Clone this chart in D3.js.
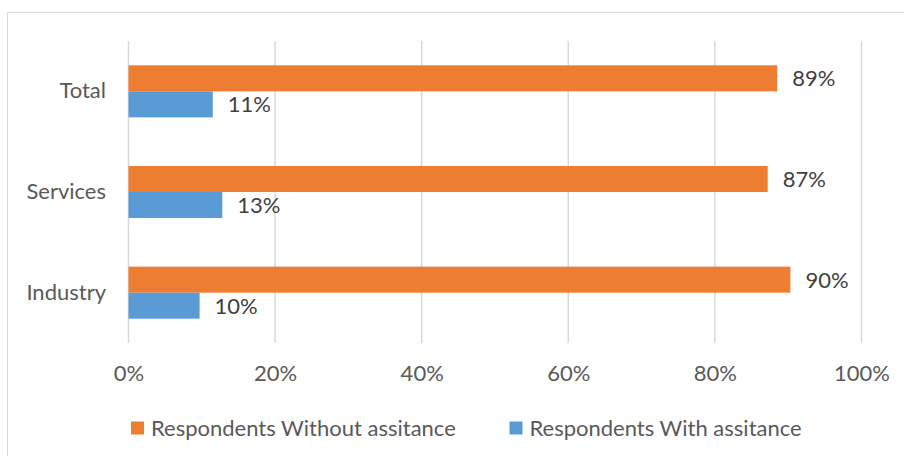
<!DOCTYPE html>
<html><head><meta charset="utf-8">
<script src="https://cdn.jsdelivr.net/npm/d3@7"></script>
<style>body{margin:0;background:#fff}svg{display:block}</style>
</head><body>
<script>
const categories = ["Total", "Services", "Industry"];
const withoutAssistance = [88.5, 87.2, 90.3];
const withAssistance = [11.5, 12.8, 9.7];
const withoutLabels = ["89%", "87%", "90%"];
const withLabels = ["11%", "13%", "10%"];
const seriesNames = ["Respondents Without assitance", "Respondents With assitance"];
const tickValues = [0, 20, 40, 60, 80, 100];

const W = 904, H = 456;
const FONT = "Lato, 'Open Sans', sans-serif";
const FS = "22px";
const svg = d3.select("body").append("svg").attr("width", W).attr("height", H);

// chart border (cropped on right/bottom)
svg.append("path").attr("d", "M7.5,460 V12.5 H910")
  .attr("fill", "none").attr("stroke", "#D9D9D9").attr("stroke-width", 1);

const x = d3.scaleLinear().domain([0, 100]).range([128.5, 861.5]);
const y = d3.scaleBand().domain(categories).range([41, 343]).paddingInner(0.483).paddingOuter(0.2415);
const sub = d3.scaleBand().domain(["without", "with"]).range([0, y.bandwidth()]);

const colors = {without: "#ED7D31", with: "#5B9BD5"};

// gridlines
svg.append("g").selectAll("line").data(tickValues).join("line")
  .attr("x1", d => x(d)).attr("x2", d => x(d))
  .attr("y1", 41).attr("y2", 343)
  .attr("stroke", "#D9D9D9").attr("stroke-width", 1.5);

// x axis
const xAxis = svg.append("g").attr("transform", "translate(0,343)")
  .call(d3.axisBottom(x).tickValues(tickValues).tickFormat(d => d + "%").tickSize(0));
xAxis.select(".domain").remove();
xAxis.selectAll("text").attr("y", 30).attr("dy", "0.36em")
  .attr("fill", "#595959").style("font-family", FONT).style("font-size", FS);

// y axis
const yAxis = svg.append("g").attr("transform", "translate(128,0)")
  .call(d3.axisLeft(y).tickSize(0).tickPadding(22));
yAxis.select(".domain").remove();
yAxis.selectAll("text").attr("fill", "#595959").style("font-family", FONT).style("font-size", FS);

const rows = categories.map((c, i) => ({c, without: withoutAssistance[i], with: withAssistance[i], lw: withoutLabels[i], lb: withLabels[i]}));

["without", "with"].forEach(key => {
  const g = svg.append("g");
  g.selectAll("rect").data(rows).join("rect")
    .attr("x", x(0)).attr("y", d => y(d.c) + sub(key))
    .attr("width", d => x(d[key]) - x(0)).attr("height", sub.bandwidth())
    .attr("fill", colors[key]);
  g.selectAll("text").data(rows).join("text")
    .attr("x", d => x(d[key]) + 15).attr("y", d => y(d.c) + sub(key) + sub.bandwidth() / 2)
    .attr("dy", "0.36em")
    .attr("fill", "#404040").style("font-family", FONT).style("font-size", FS)
    .text(d => key === "without" ? d.lw : d.lb);
});

// legend
const legend = [{name: seriesNames[0], color: colors.without, x: 131}, {name: seriesNames[1], color: colors.with, x: 509.5}];
const lg = svg.append("g").selectAll("g").data(legend).join("g")
  .attr("transform", d => `translate(${d.x},421.5)`);
lg.append("rect").attr("width", 13).attr("height", 13).attr("fill", d => d.color);
lg.append("text").attr("x", 20).attr("y", 6.5).attr("dy", "0.36em")
  .attr("fill", "#595959").style("font-family", FONT).style("font-size", FS)
  .text(d => d.name);
</script>
</body></html>
